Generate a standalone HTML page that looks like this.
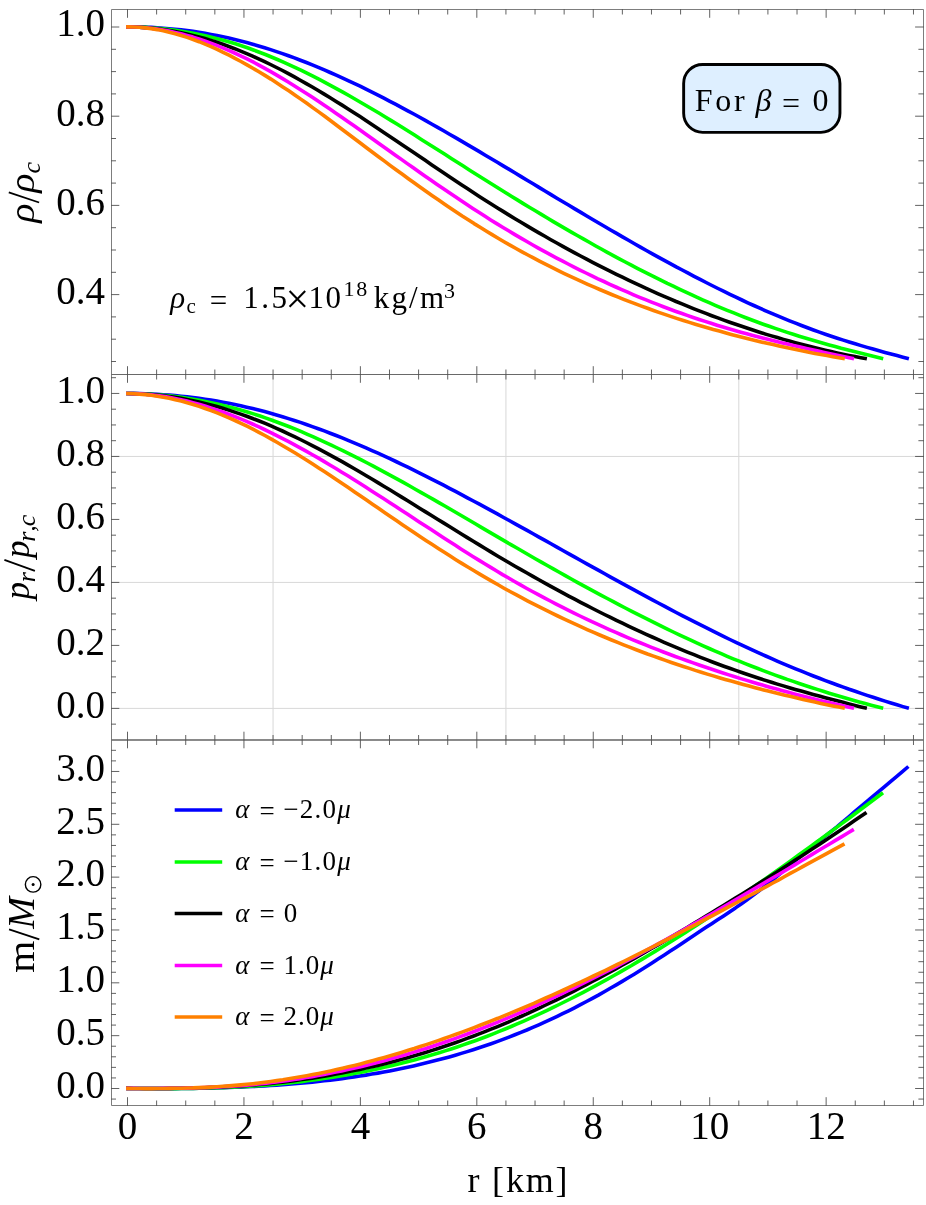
<!DOCTYPE html>
<html><head><meta charset="utf-8"><title>chart</title><style>html,body{margin:0;padding:0;background:#fff;overflow:hidden}svg{display:block;position:absolute;left:0;top:0;will-change:transform}</style></head><body>
<svg width="926" height="1205" viewBox="0 0 926 1205">
<rect width="926" height="1205" fill="#fff"/>
<path d="M273.05 374.50 V740.00 M505.93 374.50 V740.00 M738.81 374.50 V740.00 M111.50 456.44 H923.50 M111.50 582.42 H923.50 M111.50 708.40 H923.50" stroke="#d8d8d8" stroke-width="1" fill="none"/>
<path d="M126.1 26.9 L127.4 26.9 L133.4 26.9 L139.3 27.0 L145.3 27.2 L151.3 27.4 L157.2 27.8 L163.2 28.2 L169.2 28.7 L175.1 29.2 L181.1 29.9 L187.1 30.6 L193.0 31.4 L199.0 32.3 L205.0 33.3 L210.9 34.4 L216.9 35.5 L222.9 36.8 L228.8 38.1 L234.8 39.5 L240.7 41.0 L246.7 42.5 L252.7 44.2 L258.6 45.9 L264.6 47.7 L270.6 49.6 L276.5 51.6 L282.5 53.6 L288.5 55.8 L294.4 57.9 L300.4 60.2 L306.4 62.5 L312.3 64.9 L318.3 67.4 L324.3 69.9 L330.2 72.5 L336.2 75.1 L342.2 77.8 L348.1 80.6 L354.1 83.4 L360.1 86.2 L366.0 89.2 L372.0 92.1 L378.0 95.1 L383.9 98.2 L389.9 101.3 L395.9 104.4 L401.8 107.6 L407.8 110.8 L413.8 114.0 L419.7 117.3 L425.7 120.6 L431.6 124.0 L437.6 127.3 L443.6 130.7 L449.5 134.2 L455.5 137.6 L461.5 141.1 L467.4 144.6 L473.4 148.1 L479.4 151.6 L485.3 155.2 L491.3 158.7 L497.3 162.3 L503.2 165.9 L509.2 169.4 L515.2 173.0 L521.1 176.6 L527.1 180.2 L533.1 183.8 L539.0 187.4 L545.0 191.0 L551.0 194.6 L556.9 198.2 L562.9 201.7 L568.9 205.3 L574.8 208.9 L580.8 212.4 L586.8 216.0 L592.7 219.5 L598.7 223.0 L604.7 226.5 L610.6 230.0 L616.6 233.4 L622.5 236.9 L628.5 240.3 L634.5 243.7 L640.4 247.1 L646.4 250.5 L652.4 253.8 L658.3 257.1 L664.3 260.4 L670.3 263.6 L676.2 266.9 L682.2 270.0 L688.2 273.2 L694.1 276.3 L700.1 279.4 L706.1 282.5 L712.0 285.5 L718.0 288.5 L724.0 291.4 L729.9 294.3 L735.9 297.2 L741.9 300.0 L747.8 302.8 L753.8 305.5 L759.8 308.2 L765.7 310.8 L771.7 313.4 L777.7 315.9 L783.6 318.4 L789.6 320.8 L795.6 323.2 L801.5 325.5 L807.5 327.8 L813.4 330.0 L819.4 332.1 L825.4 334.2 L831.3 336.2 L837.3 338.2 L843.3 340.1 L849.2 342.0 L855.2 343.8 L861.2 345.6 L867.1 347.4 L873.1 349.1 L879.1 350.8 L885.0 352.4 L891.0 354.0 L897.0 355.6 L902.9 357.2 L908.9 358.8" stroke="#0000ff" stroke-width="3.6" fill="none" stroke-linecap="butt" stroke-linejoin="round"/>
<path d="M126.1 27.0 L127.4 27.0 L133.4 27.0 L139.4 27.2 L145.4 27.4 L151.4 27.8 L157.4 28.3 L163.4 28.8 L169.4 29.5 L175.4 30.3 L181.4 31.2 L187.4 32.2 L193.4 33.3 L199.4 34.5 L205.4 35.8 L211.4 37.2 L217.4 38.7 L223.4 40.3 L229.4 42.0 L235.4 43.8 L241.4 45.8 L247.4 47.8 L253.4 50.0 L259.4 52.2 L265.4 54.5 L271.4 57.0 L277.4 59.5 L283.4 62.1 L289.4 64.8 L295.4 67.6 L301.4 70.4 L307.4 73.4 L313.4 76.4 L319.3 79.4 L325.3 82.6 L331.3 85.8 L337.3 89.1 L343.3 92.4 L349.3 95.8 L355.3 99.2 L361.3 102.7 L367.3 106.2 L373.3 109.7 L379.3 113.3 L385.3 117.0 L391.3 120.6 L397.3 124.3 L403.3 128.1 L409.3 131.8 L415.3 135.6 L421.3 139.4 L427.3 143.2 L433.3 147.0 L439.3 150.8 L445.3 154.6 L451.3 158.5 L457.3 162.3 L463.3 166.1 L469.3 169.9 L475.3 173.7 L481.3 177.5 L487.3 181.3 L493.3 185.0 L499.3 188.8 L505.3 192.5 L511.3 196.2 L517.3 199.9 L523.3 203.6 L529.3 207.2 L535.3 210.8 L541.3 214.4 L547.3 218.0 L553.3 221.6 L559.3 225.1 L565.3 228.6 L571.3 232.1 L577.3 235.5 L583.3 238.9 L589.3 242.3 L595.3 245.7 L601.3 249.0 L607.3 252.3 L613.3 255.6 L619.3 258.8 L625.3 262.0 L631.3 265.2 L637.3 268.3 L643.3 271.4 L649.3 274.4 L655.3 277.4 L661.3 280.4 L667.3 283.4 L673.3 286.2 L679.3 289.1 L685.3 291.9 L691.3 294.7 L697.2 297.4 L703.2 300.1 L709.2 302.7 L715.2 305.3 L721.2 307.8 L727.2 310.3 L733.2 312.7 L739.2 315.1 L745.2 317.5 L751.2 319.8 L757.2 322.0 L763.2 324.2 L769.2 326.3 L775.2 328.4 L781.2 330.4 L787.2 332.4 L793.2 334.3 L799.2 336.2 L805.2 338.0 L811.2 339.8 L817.2 341.5 L823.2 343.2 L829.2 344.9 L835.2 346.5 L841.2 348.2 L847.2 349.7 L853.2 351.3 L859.2 352.8 L865.2 354.3 L871.2 355.8 L877.2 357.3 L883.2 358.8" stroke="#00ff00" stroke-width="3.6" fill="none" stroke-linecap="butt" stroke-linejoin="round"/>
<path d="M126.1 26.9 L127.4 26.9 L133.4 27.0 L139.3 27.2 L145.3 27.6 L151.3 28.1 L157.2 28.8 L163.2 29.5 L169.1 30.5 L175.1 31.5 L181.1 32.7 L187.0 34.0 L193.0 35.4 L199.0 36.9 L204.9 38.6 L210.9 40.4 L216.9 42.3 L222.8 44.3 L228.8 46.5 L234.7 48.7 L240.7 51.1 L246.7 53.6 L252.6 56.2 L258.6 58.8 L264.6 61.6 L270.5 64.5 L276.5 67.5 L282.5 70.5 L288.4 73.7 L294.4 76.9 L300.3 80.2 L306.3 83.6 L312.3 87.0 L318.2 90.5 L324.2 94.1 L330.2 97.7 L336.1 101.4 L342.1 105.1 L348.1 108.9 L354.0 112.8 L360.0 116.6 L365.9 120.5 L371.9 124.4 L377.9 128.4 L383.8 132.4 L389.8 136.4 L395.8 140.4 L401.7 144.4 L407.7 148.5 L413.7 152.5 L419.6 156.6 L425.6 160.6 L431.5 164.7 L437.5 168.7 L443.5 172.7 L449.4 176.7 L455.4 180.7 L461.4 184.7 L467.3 188.6 L473.3 192.5 L479.3 196.4 L485.2 200.2 L491.2 204.0 L497.1 207.7 L503.1 211.4 L509.1 215.1 L515.0 218.7 L521.0 222.3 L527.0 225.9 L532.9 229.4 L538.9 232.9 L544.9 236.3 L550.8 239.7 L556.8 243.0 L562.8 246.4 L568.7 249.6 L574.7 252.9 L580.6 256.0 L586.6 259.2 L592.6 262.3 L598.5 265.4 L604.5 268.4 L610.5 271.4 L616.4 274.3 L622.4 277.2 L628.4 280.1 L634.3 282.9 L640.3 285.7 L646.2 288.4 L652.2 291.1 L658.2 293.8 L664.1 296.4 L670.1 298.9 L676.1 301.5 L682.0 303.9 L688.0 306.4 L694.0 308.8 L699.9 311.1 L705.9 313.4 L711.8 315.7 L717.8 317.9 L723.8 320.1 L729.7 322.2 L735.7 324.3 L741.7 326.3 L747.6 328.3 L753.6 330.3 L759.6 332.2 L765.5 334.1 L771.5 335.9 L777.4 337.6 L783.4 339.4 L789.4 341.1 L795.3 342.7 L801.3 344.3 L807.3 345.8 L813.2 347.3 L819.2 348.8 L825.2 350.2 L831.1 351.6 L837.1 352.9 L843.0 354.2 L849.0 355.4 L855.0 356.6 L860.9 357.7 L866.9 358.8" stroke="#000000" stroke-width="3.6" fill="none" stroke-linecap="butt" stroke-linejoin="round"/>
<path d="M126.1 26.9 L127.4 26.9 L133.4 27.0 L139.3 27.3 L145.3 27.7 L151.2 28.3 L157.2 29.1 L163.1 30.0 L169.1 31.1 L175.0 32.4 L181.0 33.8 L187.0 35.4 L192.9 37.1 L198.9 39.0 L204.8 41.0 L210.8 43.1 L216.7 45.4 L222.7 47.8 L228.6 50.3 L234.6 53.0 L240.6 55.8 L246.5 58.7 L252.5 61.7 L258.4 64.8 L264.4 68.1 L270.3 71.4 L276.3 74.9 L282.2 78.4 L288.2 82.0 L294.2 85.7 L300.1 89.4 L306.1 93.2 L312.0 97.1 L318.0 101.1 L323.9 105.1 L329.9 109.1 L335.9 113.2 L341.8 117.3 L347.8 121.5 L353.7 125.6 L359.7 129.8 L365.6 134.0 L371.6 138.3 L377.5 142.5 L383.5 146.7 L389.5 151.0 L395.4 155.2 L401.4 159.4 L407.3 163.6 L413.3 167.8 L419.2 172.0 L425.2 176.2 L431.1 180.3 L437.1 184.5 L443.1 188.6 L449.0 192.6 L455.0 196.6 L460.9 200.6 L466.9 204.6 L472.8 208.5 L478.8 212.3 L484.7 216.1 L490.7 219.9 L496.7 223.6 L502.6 227.2 L508.6 230.8 L514.5 234.4 L520.5 237.9 L526.4 241.3 L532.4 244.7 L538.3 248.1 L544.3 251.4 L550.3 254.6 L556.2 257.8 L562.2 260.9 L568.1 264.0 L574.1 267.1 L580.0 270.1 L586.0 273.0 L591.9 275.9 L597.9 278.8 L603.9 281.5 L609.8 284.3 L615.8 287.0 L621.7 289.6 L627.7 292.2 L633.6 294.8 L639.6 297.3 L645.5 299.7 L651.5 302.1 L657.5 304.4 L663.4 306.7 L669.4 309.0 L675.3 311.2 L681.3 313.3 L687.2 315.4 L693.2 317.5 L699.2 319.5 L705.1 321.4 L711.1 323.3 L717.0 325.2 L723.0 327.0 L728.9 328.8 L734.9 330.5 L740.8 332.2 L746.8 333.8 L752.8 335.4 L758.7 337.0 L764.7 338.5 L770.6 340.0 L776.6 341.5 L782.5 342.9 L788.5 344.3 L794.4 345.7 L800.4 347.1 L806.4 348.5 L812.3 349.8 L818.3 351.1 L824.2 352.4 L830.2 353.7 L836.1 355.0 L842.1 356.3 L848.0 357.5 L854.0 358.8" stroke="#ff00ff" stroke-width="3.6" fill="none" stroke-linecap="butt" stroke-linejoin="round"/>
<path d="M126.1 26.9 L127.4 26.9 L133.4 27.0 L139.4 27.3 L145.3 27.9 L151.3 28.6 L157.3 29.6 L163.3 30.8 L169.2 32.2 L175.2 33.7 L181.2 35.5 L187.2 37.4 L193.2 39.5 L199.1 41.7 L205.1 44.2 L211.1 46.7 L217.1 49.4 L223.1 52.3 L229.0 55.2 L235.0 58.3 L241.0 61.5 L247.0 64.9 L252.9 68.3 L258.9 71.8 L264.9 75.4 L270.9 79.1 L276.9 83.0 L282.8 86.9 L288.8 90.8 L294.8 94.9 L300.8 99.1 L306.8 103.3 L312.7 107.6 L318.7 111.9 L324.7 116.3 L330.7 120.7 L336.6 125.2 L342.6 129.7 L348.6 134.2 L354.6 138.7 L360.6 143.2 L366.5 147.7 L372.5 152.2 L378.5 156.7 L384.5 161.1 L390.4 165.6 L396.4 170.0 L402.4 174.3 L408.4 178.7 L414.4 183.0 L420.3 187.2 L426.3 191.5 L432.3 195.7 L438.3 199.8 L444.3 203.9 L450.2 207.9 L456.2 211.9 L462.2 215.9 L468.2 219.7 L474.1 223.6 L480.1 227.3 L486.1 231.0 L492.1 234.6 L498.1 238.2 L504.0 241.7 L510.0 245.1 L516.0 248.5 L522.0 251.8 L527.9 255.0 L533.9 258.2 L539.9 261.3 L545.9 264.4 L551.9 267.4 L557.8 270.4 L563.8 273.3 L569.8 276.1 L575.8 278.9 L581.8 281.6 L587.7 284.3 L593.7 286.9 L599.7 289.5 L605.7 292.0 L611.6 294.5 L617.6 296.9 L623.6 299.3 L629.6 301.6 L635.6 303.9 L641.5 306.1 L647.5 308.3 L653.5 310.5 L659.5 312.6 L665.5 314.6 L671.4 316.6 L677.4 318.6 L683.4 320.5 L689.4 322.4 L695.3 324.2 L701.3 326.0 L707.3 327.7 L713.3 329.5 L719.3 331.1 L725.2 332.8 L731.2 334.4 L737.2 335.9 L743.2 337.5 L749.1 339.0 L755.1 340.4 L761.1 341.9 L767.1 343.3 L773.1 344.6 L779.0 346.0 L785.0 347.3 L791.0 348.5 L797.0 349.8 L803.0 351.0 L808.9 352.2 L814.9 353.4 L820.9 354.5 L826.9 355.6 L832.8 356.7 L838.8 357.8 L844.8 358.8" stroke="#ff8000" stroke-width="3.6" fill="none" stroke-linecap="butt" stroke-linejoin="round"/>
<path d="M126.1 393.5 L127.4 393.5 L133.4 393.5 L139.3 393.6 L145.3 393.8 L151.3 394.0 L157.2 394.3 L163.2 394.7 L169.2 395.1 L175.1 395.6 L181.1 396.2 L187.1 396.8 L193.0 397.6 L199.0 398.4 L205.0 399.2 L210.9 400.1 L216.9 401.1 L222.9 402.2 L228.8 403.3 L234.8 404.6 L240.7 405.8 L246.7 407.2 L252.7 408.6 L258.6 410.1 L264.6 411.6 L270.6 413.3 L276.5 415.0 L282.5 416.7 L288.5 418.6 L294.4 420.5 L300.4 422.4 L306.4 424.5 L312.3 426.6 L318.3 428.7 L324.3 430.9 L330.2 433.2 L336.2 435.5 L342.2 437.9 L348.1 440.3 L354.1 442.8 L360.1 445.3 L366.0 447.9 L372.0 450.6 L378.0 453.2 L383.9 455.9 L389.9 458.7 L395.9 461.5 L401.8 464.3 L407.8 467.2 L413.8 470.1 L419.7 473.1 L425.7 476.1 L431.6 479.1 L437.6 482.1 L443.6 485.2 L449.5 488.3 L455.5 491.4 L461.5 494.6 L467.4 497.8 L473.4 501.0 L479.4 504.2 L485.3 507.4 L491.3 510.7 L497.3 513.9 L503.2 517.2 L509.2 520.5 L515.2 523.8 L521.1 527.1 L527.1 530.4 L533.1 533.8 L539.0 537.1 L545.0 540.4 L551.0 543.8 L556.9 547.1 L562.9 550.5 L568.9 553.8 L574.8 557.1 L580.8 560.5 L586.8 563.8 L592.7 567.1 L598.7 570.4 L604.7 573.8 L610.6 577.1 L616.6 580.3 L622.5 583.6 L628.5 586.9 L634.5 590.2 L640.4 593.4 L646.4 596.6 L652.4 599.8 L658.3 603.0 L664.3 606.2 L670.3 609.3 L676.2 612.5 L682.2 615.6 L688.2 618.6 L694.1 621.7 L700.1 624.7 L706.1 627.7 L712.0 630.7 L718.0 633.7 L724.0 636.6 L729.9 639.5 L735.9 642.3 L741.9 645.1 L747.8 647.9 L753.8 650.7 L759.8 653.4 L765.7 656.0 L771.7 658.7 L777.7 661.3 L783.6 663.8 L789.6 666.3 L795.6 668.8 L801.5 671.2 L807.5 673.6 L813.4 676.0 L819.4 678.3 L825.4 680.6 L831.3 682.8 L837.3 685.0 L843.3 687.1 L849.2 689.3 L855.2 691.3 L861.2 693.4 L867.1 695.4 L873.1 697.3 L879.1 699.2 L885.0 701.1 L891.0 703.0 L897.0 704.8 L902.9 706.6 L908.9 708.3" stroke="#0000ff" stroke-width="3.6" fill="none" stroke-linecap="butt" stroke-linejoin="round"/>
<path d="M126.1 393.5 L127.4 393.5 L133.4 393.5 L139.4 393.7 L145.4 393.9 L151.4 394.3 L157.4 394.7 L163.4 395.2 L169.4 395.8 L175.4 396.5 L181.4 397.3 L187.4 398.2 L193.4 399.2 L199.4 400.3 L205.4 401.4 L211.4 402.7 L217.4 404.0 L223.4 405.4 L229.4 406.9 L235.4 408.5 L241.4 410.2 L247.4 412.0 L253.4 413.9 L259.4 415.8 L265.4 417.9 L271.4 420.0 L277.4 422.2 L283.4 424.5 L289.4 426.8 L295.4 429.2 L301.4 431.7 L307.4 434.3 L313.4 436.9 L319.3 439.6 L325.3 442.3 L331.3 445.1 L337.3 448.0 L343.3 450.9 L349.3 453.8 L355.3 456.9 L361.3 459.9 L367.3 463.0 L373.3 466.2 L379.3 469.3 L385.3 472.6 L391.3 475.8 L397.3 479.1 L403.3 482.4 L409.3 485.8 L415.3 489.2 L421.3 492.6 L427.3 496.0 L433.3 499.4 L439.3 502.9 L445.3 506.3 L451.3 509.8 L457.3 513.3 L463.3 516.8 L469.3 520.3 L475.3 523.8 L481.3 527.4 L487.3 530.9 L493.3 534.4 L499.3 537.9 L505.3 541.4 L511.3 544.9 L517.3 548.3 L523.3 551.8 L529.3 555.3 L535.3 558.7 L541.3 562.1 L547.3 565.5 L553.3 568.9 L559.3 572.3 L565.3 575.6 L571.3 579.0 L577.3 582.3 L583.3 585.6 L589.3 588.9 L595.3 592.1 L601.3 595.3 L607.3 598.5 L613.3 601.7 L619.3 604.9 L625.3 608.0 L631.3 611.1 L637.3 614.2 L643.3 617.2 L649.3 620.2 L655.3 623.2 L661.3 626.2 L667.3 629.1 L673.3 632.0 L679.3 634.8 L685.3 637.6 L691.3 640.4 L697.2 643.1 L703.2 645.8 L709.2 648.5 L715.2 651.1 L721.2 653.7 L727.2 656.3 L733.2 658.8 L739.2 661.2 L745.2 663.6 L751.2 666.0 L757.2 668.3 L763.2 670.6 L769.2 672.9 L775.2 675.1 L781.2 677.2 L787.2 679.4 L793.2 681.4 L799.2 683.5 L805.2 685.5 L811.2 687.5 L817.2 689.4 L823.2 691.3 L829.2 693.2 L835.2 695.0 L841.2 696.8 L847.2 698.5 L853.2 700.2 L859.2 701.9 L865.2 703.6 L871.2 705.2 L877.2 706.8 L883.2 708.3" stroke="#00ff00" stroke-width="3.6" fill="none" stroke-linecap="butt" stroke-linejoin="round"/>
<path d="M126.1 393.5 L127.4 393.5 L133.4 393.6 L139.3 393.8 L145.3 394.2 L151.3 394.6 L157.2 395.1 L163.2 395.8 L169.1 396.6 L175.1 397.4 L181.1 398.4 L187.0 399.5 L193.0 400.7 L199.0 402.0 L204.9 403.4 L210.9 404.9 L216.9 406.6 L222.8 408.3 L228.8 410.1 L234.7 412.1 L240.7 414.1 L246.7 416.2 L252.6 418.5 L258.6 420.8 L264.6 423.2 L270.5 425.7 L276.5 428.3 L282.5 431.0 L288.4 433.8 L294.4 436.6 L300.3 439.5 L306.3 442.5 L312.3 445.6 L318.2 448.7 L324.2 451.9 L330.2 455.1 L336.1 458.4 L342.1 461.7 L348.1 465.1 L354.0 468.5 L360.0 472.0 L365.9 475.5 L371.9 479.0 L377.9 482.6 L383.8 486.2 L389.8 489.8 L395.8 493.5 L401.7 497.1 L407.7 500.8 L413.7 504.5 L419.6 508.2 L425.6 511.9 L431.5 515.6 L437.5 519.3 L443.5 522.9 L449.4 526.6 L455.4 530.3 L461.4 534.0 L467.3 537.6 L473.3 541.3 L479.3 544.9 L485.2 548.5 L491.2 552.1 L497.1 555.7 L503.1 559.2 L509.1 562.7 L515.0 566.2 L521.0 569.6 L527.0 573.0 L532.9 576.4 L538.9 579.8 L544.9 583.1 L550.8 586.4 L556.8 589.6 L562.8 592.9 L568.7 596.1 L574.7 599.2 L580.6 602.3 L586.6 605.4 L592.6 608.5 L598.5 611.5 L604.5 614.5 L610.5 617.4 L616.4 620.3 L622.4 623.2 L628.4 626.1 L634.3 628.9 L640.3 631.6 L646.2 634.3 L652.2 637.0 L658.2 639.7 L664.1 642.3 L670.1 644.9 L676.1 647.4 L682.0 649.9 L688.0 652.3 L694.0 654.7 L699.9 657.1 L705.9 659.4 L711.8 661.7 L717.8 664.0 L723.8 666.2 L729.7 668.3 L735.7 670.4 L741.7 672.5 L747.6 674.5 L753.6 676.5 L759.6 678.5 L765.5 680.4 L771.5 682.3 L777.4 684.1 L783.4 685.9 L789.4 687.7 L795.3 689.4 L801.3 691.1 L807.3 692.8 L813.2 694.4 L819.2 696.1 L825.2 697.7 L831.1 699.2 L837.1 700.8 L843.0 702.3 L849.0 703.9 L855.0 705.4 L860.9 706.9 L866.9 708.3" stroke="#000000" stroke-width="3.6" fill="none" stroke-linecap="butt" stroke-linejoin="round"/>
<path d="M126.1 393.5 L127.4 393.5 L133.4 393.6 L139.3 393.9 L145.3 394.3 L151.2 394.9 L157.2 395.6 L163.1 396.4 L169.1 397.4 L175.0 398.5 L181.0 399.8 L187.0 401.1 L192.9 402.7 L198.9 404.3 L204.8 406.0 L210.8 407.9 L216.7 409.9 L222.7 412.0 L228.6 414.2 L234.6 416.5 L240.6 418.9 L246.5 421.4 L252.5 424.0 L258.4 426.7 L264.4 429.5 L270.3 432.3 L276.3 435.3 L282.2 438.3 L288.2 441.4 L294.2 444.6 L300.1 447.8 L306.1 451.1 L312.0 454.5 L318.0 457.9 L323.9 461.4 L329.9 465.0 L335.9 468.5 L341.8 472.2 L347.8 475.8 L353.7 479.6 L359.7 483.3 L365.6 487.1 L371.6 490.9 L377.5 494.7 L383.5 498.5 L389.5 502.4 L395.4 506.3 L401.4 510.2 L407.3 514.1 L413.3 518.0 L419.2 521.9 L425.2 525.8 L431.1 529.6 L437.1 533.5 L443.1 537.4 L449.0 541.2 L455.0 545.1 L460.9 548.9 L466.9 552.7 L472.8 556.4 L478.8 560.1 L484.7 563.8 L490.7 567.4 L496.7 571.0 L502.6 574.6 L508.6 578.0 L514.5 581.5 L520.5 584.9 L526.4 588.2 L532.4 591.5 L538.3 594.7 L544.3 597.9 L550.3 601.0 L556.2 604.1 L562.2 607.2 L568.1 610.2 L574.1 613.1 L580.0 616.0 L586.0 618.8 L591.9 621.7 L597.9 624.4 L603.9 627.1 L609.8 629.8 L615.8 632.4 L621.7 635.0 L627.7 637.6 L633.6 640.1 L639.6 642.5 L645.5 644.9 L651.5 647.3 L657.5 649.7 L663.4 652.0 L669.4 654.2 L675.3 656.5 L681.3 658.6 L687.2 660.8 L693.2 662.9 L699.2 665.0 L705.1 667.0 L711.1 669.0 L717.0 671.0 L723.0 673.0 L728.9 674.9 L734.9 676.7 L740.8 678.6 L746.8 680.4 L752.8 682.2 L758.7 683.9 L764.7 685.7 L770.6 687.4 L776.6 689.0 L782.5 690.7 L788.5 692.3 L794.4 693.9 L800.4 695.4 L806.4 697.0 L812.3 698.5 L818.3 699.9 L824.2 701.4 L830.2 702.8 L836.1 704.2 L842.1 705.6 L848.0 707.0 L854.0 708.3" stroke="#ff00ff" stroke-width="3.6" fill="none" stroke-linecap="butt" stroke-linejoin="round"/>
<path d="M126.1 393.5 L127.4 393.5 L133.4 393.7 L139.4 394.1 L145.3 394.6 L151.3 395.3 L157.3 396.2 L163.3 397.2 L169.2 398.3 L175.2 399.7 L181.2 401.1 L187.2 402.8 L193.2 404.5 L199.1 406.4 L205.1 408.5 L211.1 410.6 L217.1 412.9 L223.1 415.3 L229.0 417.9 L235.0 420.5 L241.0 423.3 L247.0 426.2 L252.9 429.2 L258.9 432.3 L264.9 435.5 L270.9 438.8 L276.9 442.2 L282.8 445.7 L288.8 449.2 L294.8 452.8 L300.8 456.5 L306.8 460.3 L312.7 464.1 L318.7 467.9 L324.7 471.8 L330.7 475.8 L336.6 479.8 L342.6 483.8 L348.6 487.8 L354.6 491.9 L360.6 496.0 L366.5 500.1 L372.5 504.2 L378.5 508.3 L384.5 512.4 L390.4 516.5 L396.4 520.6 L402.4 524.7 L408.4 528.7 L414.4 532.8 L420.3 536.7 L426.3 540.7 L432.3 544.6 L438.3 548.5 L444.3 552.3 L450.2 556.1 L456.2 559.9 L462.2 563.6 L468.2 567.2 L474.1 570.8 L480.1 574.4 L486.1 577.9 L492.1 581.4 L498.1 584.8 L504.0 588.2 L510.0 591.5 L516.0 594.7 L522.0 597.9 L527.9 601.1 L533.9 604.2 L539.9 607.2 L545.9 610.2 L551.9 613.2 L557.8 616.0 L563.8 618.9 L569.8 621.7 L575.8 624.4 L581.8 627.1 L587.7 629.8 L593.7 632.4 L599.7 635.0 L605.7 637.5 L611.6 640.0 L617.6 642.4 L623.6 644.8 L629.6 647.2 L635.6 649.5 L641.5 651.7 L647.5 654.0 L653.5 656.1 L659.5 658.3 L665.5 660.4 L671.4 662.5 L677.4 664.5 L683.4 666.5 L689.4 668.4 L695.3 670.4 L701.3 672.2 L707.3 674.1 L713.3 675.9 L719.3 677.7 L725.2 679.4 L731.2 681.1 L737.2 682.8 L743.2 684.5 L749.1 686.1 L755.1 687.7 L761.1 689.3 L767.1 690.8 L773.1 692.3 L779.0 693.8 L785.0 695.2 L791.0 696.6 L797.0 698.0 L803.0 699.4 L808.9 700.8 L814.9 702.1 L820.9 703.4 L826.9 704.7 L832.8 705.9 L838.8 707.1 L844.8 708.3" stroke="#ff8000" stroke-width="3.6" fill="none" stroke-linecap="butt" stroke-linejoin="round"/>
<path d="M126.1 1088.4 L127.4 1088.4 L133.4 1088.5 L139.3 1088.5 L145.3 1088.6 L151.2 1088.6 L157.2 1088.6 L163.2 1088.6 L169.1 1088.6 L175.1 1088.6 L181.1 1088.5 L187.0 1088.5 L193.0 1088.4 L198.9 1088.3 L204.9 1088.2 L210.9 1088.1 L216.8 1087.9 L222.8 1087.7 L228.8 1087.5 L234.7 1087.3 L240.7 1087.1 L246.6 1086.8 L252.6 1086.5 L258.6 1086.2 L264.5 1085.9 L270.5 1085.5 L276.4 1085.1 L282.4 1084.7 L288.4 1084.2 L294.3 1083.7 L300.3 1083.2 L306.3 1082.7 L312.2 1082.1 L318.2 1081.5 L324.1 1080.8 L330.1 1080.1 L336.1 1079.4 L342.0 1078.6 L348.0 1077.8 L353.9 1076.9 L359.9 1076.0 L365.9 1075.1 L371.8 1074.1 L377.8 1073.1 L383.8 1072.0 L389.7 1070.9 L395.7 1069.7 L401.6 1068.5 L407.6 1067.2 L413.6 1065.9 L419.5 1064.5 L425.5 1063.1 L431.5 1061.6 L437.4 1060.1 L443.4 1058.5 L449.3 1056.9 L455.3 1055.2 L461.3 1053.4 L467.2 1051.6 L473.2 1049.7 L479.1 1047.8 L485.1 1045.8 L491.1 1043.7 L497.0 1041.6 L503.0 1039.4 L509.0 1037.1 L514.9 1034.8 L520.9 1032.4 L526.8 1030.0 L532.8 1027.4 L538.8 1024.8 L544.7 1022.2 L550.7 1019.4 L556.7 1016.6 L562.6 1013.7 L568.6 1010.8 L574.5 1007.8 L580.5 1004.7 L586.5 1001.5 L592.4 998.3 L598.4 995.1 L604.3 991.7 L610.3 988.3 L616.3 984.9 L622.2 981.4 L628.2 977.8 L634.2 974.2 L640.1 970.5 L646.1 966.8 L652.0 963.0 L658.0 959.1 L664.0 955.2 L669.9 951.3 L675.9 947.4 L681.9 943.4 L687.8 939.4 L693.8 935.5 L699.7 931.6 L705.7 927.6 L711.7 923.7 L717.6 919.8 L723.6 915.9 L729.5 911.9 L735.5 907.9 L741.5 903.7 L747.4 899.5 L753.4 895.1 L759.4 890.6 L765.3 886.0 L771.3 881.2 L777.2 876.2 L783.2 871.1 L789.2 865.9 L795.1 860.8 L801.1 855.6 L807.0 850.6 L813.0 845.7 L819.0 840.9 L824.9 836.3 L830.9 831.6 L836.9 826.8 L842.8 821.8 L848.8 816.8 L854.7 811.7 L860.7 806.7 L866.7 801.6 L872.6 796.6 L878.6 791.7 L884.6 786.7 L890.5 781.7 L896.5 776.7 L902.4 771.7 L908.4 766.5" stroke="#0000ff" stroke-width="3.6" fill="none" stroke-linecap="butt" stroke-linejoin="round"/>
<path d="M126.1 1088.4 L127.4 1088.4 L133.4 1088.5 L139.4 1088.5 L145.4 1088.6 L151.4 1088.6 L157.4 1088.6 L163.4 1088.6 L169.4 1088.6 L175.4 1088.6 L181.4 1088.5 L187.4 1088.5 L193.4 1088.4 L199.4 1088.3 L205.4 1088.1 L211.4 1088.0 L217.4 1087.8 L223.3 1087.6 L229.3 1087.3 L235.3 1087.0 L241.3 1086.7 L247.3 1086.4 L253.3 1086.0 L259.3 1085.6 L265.3 1085.1 L271.3 1084.6 L277.3 1084.1 L283.3 1083.5 L289.3 1082.9 L295.3 1082.2 L301.3 1081.6 L307.3 1080.8 L313.3 1080.0 L319.3 1079.2 L325.3 1078.3 L331.3 1077.4 L337.3 1076.5 L343.3 1075.5 L349.3 1074.4 L355.3 1073.3 L361.3 1072.2 L367.3 1071.0 L373.3 1069.8 L379.3 1068.5 L385.3 1067.1 L391.3 1065.7 L397.3 1064.3 L403.3 1062.8 L409.3 1061.3 L415.2 1059.7 L421.2 1058.0 L427.2 1056.3 L433.2 1054.6 L439.2 1052.8 L445.2 1050.9 L451.2 1049.0 L457.2 1047.0 L463.2 1044.9 L469.2 1042.8 L475.2 1040.7 L481.2 1038.5 L487.2 1036.2 L493.2 1033.8 L499.2 1031.4 L505.2 1029.0 L511.2 1026.5 L517.2 1023.9 L523.2 1021.3 L529.2 1018.6 L535.2 1015.9 L541.2 1013.1 L547.2 1010.3 L553.2 1007.4 L559.2 1004.5 L565.2 1001.5 L571.2 998.5 L577.2 995.4 L583.2 992.3 L589.2 989.1 L595.2 985.9 L601.1 982.6 L607.1 979.3 L613.1 976.0 L619.1 972.6 L625.1 969.1 L631.1 965.7 L637.1 962.1 L643.1 958.6 L649.1 955.0 L655.1 951.4 L661.1 947.7 L667.1 944.0 L673.1 940.3 L679.1 936.5 L685.1 932.7 L691.1 928.8 L697.1 924.9 L703.1 921.0 L709.1 917.1 L715.1 913.1 L721.1 909.1 L727.1 905.1 L733.1 901.0 L739.1 897.0 L745.1 892.9 L751.1 888.7 L757.1 884.6 L763.1 880.4 L769.1 876.2 L775.1 871.9 L781.1 867.7 L787.1 863.4 L793.0 859.1 L799.0 854.8 L805.0 850.5 L811.0 846.1 L817.0 841.8 L823.0 837.4 L829.0 833.0 L835.0 828.6 L841.0 824.1 L847.0 819.7 L853.0 815.2 L859.0 810.8 L865.0 806.3 L871.0 801.8 L877.0 797.3 L883.0 792.8" stroke="#00ff00" stroke-width="3.6" fill="none" stroke-linecap="butt" stroke-linejoin="round"/>
<path d="M126.1 1088.4 L127.4 1088.4 L133.4 1088.5 L139.3 1088.5 L145.3 1088.5 L151.2 1088.5 L157.2 1088.5 L163.2 1088.5 L169.1 1088.4 L175.1 1088.3 L181.0 1088.3 L187.0 1088.1 L193.0 1088.0 L198.9 1087.8 L204.9 1087.7 L210.8 1087.4 L216.8 1087.2 L222.8 1086.9 L228.7 1086.6 L234.7 1086.3 L240.6 1085.9 L246.6 1085.5 L252.6 1085.0 L258.5 1084.5 L264.5 1083.9 L270.5 1083.4 L276.4 1082.7 L282.4 1082.1 L288.3 1081.4 L294.3 1080.6 L300.3 1079.8 L306.2 1079.0 L312.2 1078.1 L318.1 1077.2 L324.1 1076.2 L330.1 1075.2 L336.0 1074.1 L342.0 1073.0 L347.9 1071.8 L353.9 1070.6 L359.9 1069.4 L365.8 1068.1 L371.8 1066.8 L377.7 1065.4 L383.7 1063.9 L389.7 1062.4 L395.6 1060.9 L401.6 1059.3 L407.5 1057.7 L413.5 1056.0 L419.5 1054.2 L425.4 1052.5 L431.4 1050.6 L437.3 1048.7 L443.3 1046.8 L449.3 1044.8 L455.2 1042.7 L461.2 1040.6 L467.1 1038.4 L473.1 1036.2 L479.1 1033.9 L485.0 1031.6 L491.0 1029.2 L497.0 1026.8 L502.9 1024.3 L508.9 1021.8 L514.8 1019.2 L520.8 1016.5 L526.8 1013.9 L532.7 1011.1 L538.7 1008.4 L544.6 1005.5 L550.6 1002.7 L556.6 999.8 L562.5 996.8 L568.5 993.8 L574.4 990.8 L580.4 987.7 L586.4 984.6 L592.3 981.5 L598.3 978.3 L604.2 975.1 L610.2 971.9 L616.2 968.6 L622.1 965.3 L628.1 961.9 L634.0 958.6 L640.0 955.2 L646.0 951.8 L651.9 948.3 L657.9 944.9 L663.8 941.4 L669.8 937.9 L675.8 934.3 L681.7 930.8 L687.7 927.2 L693.6 923.6 L699.6 920.0 L705.6 916.4 L711.5 912.8 L717.5 909.1 L723.4 905.5 L729.4 901.8 L735.4 898.1 L741.3 894.4 L747.3 890.7 L753.3 887.0 L759.2 883.2 L765.2 879.4 L771.1 875.7 L777.1 871.9 L783.1 868.0 L789.0 864.2 L795.0 860.3 L800.9 856.5 L806.9 852.6 L812.9 848.6 L818.8 844.7 L824.8 840.7 L830.7 836.8 L836.7 832.8 L842.7 828.7 L848.6 824.7 L854.6 820.6 L860.5 816.5 L866.5 812.4" stroke="#000000" stroke-width="3.6" fill="none" stroke-linecap="butt" stroke-linejoin="round"/>
<path d="M126.1 1088.4 L127.4 1088.4 L133.4 1088.4 L139.3 1088.5 L145.3 1088.5 L151.2 1088.5 L157.2 1088.5 L163.1 1088.4 L169.1 1088.4 L175.0 1088.3 L181.0 1088.2 L186.9 1088.1 L192.9 1088.0 L198.8 1087.8 L204.8 1087.6 L210.8 1087.4 L216.7 1087.1 L222.7 1086.8 L228.6 1086.4 L234.6 1086.0 L240.5 1085.6 L246.5 1085.1 L252.4 1084.6 L258.4 1084.0 L264.3 1083.4 L270.3 1082.7 L276.3 1082.0 L282.2 1081.2 L288.2 1080.4 L294.1 1079.5 L300.1 1078.6 L306.0 1077.6 L312.0 1076.6 L317.9 1075.6 L323.9 1074.5 L329.8 1073.3 L335.8 1072.1 L341.7 1070.9 L347.7 1069.6 L353.7 1068.2 L359.6 1066.9 L365.6 1065.4 L371.5 1064.0 L377.5 1062.4 L383.4 1060.9 L389.4 1059.3 L395.3 1057.6 L401.3 1055.9 L407.2 1054.2 L413.2 1052.4 L419.2 1050.5 L425.1 1048.7 L431.1 1046.7 L437.0 1044.8 L443.0 1042.8 L448.9 1040.7 L454.9 1038.6 L460.8 1036.4 L466.8 1034.2 L472.7 1032.0 L478.7 1029.7 L484.6 1027.4 L490.6 1025.0 L496.6 1022.6 L502.5 1020.2 L508.5 1017.7 L514.4 1015.2 L520.4 1012.6 L526.3 1010.0 L532.3 1007.3 L538.2 1004.7 L544.2 1001.9 L550.1 999.2 L556.1 996.4 L562.0 993.6 L568.0 990.7 L574.0 987.8 L579.9 984.9 L585.9 982.0 L591.8 979.0 L597.8 976.0 L603.7 972.9 L609.7 969.9 L615.6 966.8 L621.6 963.7 L627.5 960.5 L633.5 957.3 L639.5 954.2 L645.4 950.9 L651.4 947.7 L657.3 944.4 L663.3 941.1 L669.2 937.8 L675.2 934.5 L681.1 931.2 L687.1 927.8 L693.0 924.4 L699.0 921.0 L704.9 917.6 L710.9 914.2 L716.9 910.8 L722.8 907.3 L728.8 903.9 L734.7 900.4 L740.7 896.9 L746.6 893.4 L752.6 889.9 L758.5 886.4 L764.5 882.8 L770.4 879.3 L776.4 875.8 L782.4 872.2 L788.3 868.7 L794.3 865.1 L800.2 861.5 L806.2 858.0 L812.1 854.4 L818.1 850.8 L824.0 847.3 L830.0 843.7 L835.9 840.1 L841.9 836.6 L847.8 833.0 L853.8 829.4" stroke="#ff00ff" stroke-width="3.6" fill="none" stroke-linecap="butt" stroke-linejoin="round"/>
<path d="M126.1 1088.4 L127.4 1088.4 L133.4 1088.5 L139.4 1088.5 L145.3 1088.6 L151.3 1088.6 L157.3 1088.5 L163.3 1088.5 L169.2 1088.4 L175.2 1088.3 L181.2 1088.2 L187.2 1088.0 L193.1 1087.9 L199.1 1087.6 L205.1 1087.4 L211.1 1087.1 L217.0 1086.7 L223.0 1086.3 L229.0 1085.9 L235.0 1085.4 L240.9 1084.9 L246.9 1084.3 L252.9 1083.7 L258.9 1083.0 L264.8 1082.3 L270.8 1081.5 L276.8 1080.6 L282.8 1079.8 L288.7 1078.8 L294.7 1077.8 L300.7 1076.8 L306.7 1075.7 L312.7 1074.6 L318.6 1073.4 L324.6 1072.2 L330.6 1070.9 L336.6 1069.6 L342.5 1068.2 L348.5 1066.8 L354.5 1065.4 L360.5 1063.9 L366.4 1062.3 L372.4 1060.7 L378.4 1059.1 L384.4 1057.4 L390.3 1055.7 L396.3 1054.0 L402.3 1052.2 L408.3 1050.3 L414.2 1048.5 L420.2 1046.5 L426.2 1044.6 L432.2 1042.6 L438.1 1040.6 L444.1 1038.5 L450.1 1036.4 L456.1 1034.2 L462.0 1032.1 L468.0 1029.9 L474.0 1027.6 L480.0 1025.3 L486.0 1023.0 L491.9 1020.6 L497.9 1018.3 L503.9 1015.8 L509.9 1013.4 L515.8 1010.9 L521.8 1008.4 L527.8 1005.8 L533.8 1003.3 L539.7 1000.6 L545.7 998.0 L551.7 995.4 L557.7 992.7 L563.6 990.0 L569.6 987.2 L575.6 984.4 L581.6 981.7 L587.5 978.8 L593.5 976.0 L599.5 973.1 L605.5 970.3 L611.4 967.4 L617.4 964.4 L623.4 961.5 L629.4 958.5 L635.3 955.5 L641.3 952.5 L647.3 949.5 L653.3 946.5 L659.2 943.4 L665.2 940.3 L671.2 937.3 L677.2 934.1 L683.2 931.0 L689.1 927.9 L695.1 924.8 L701.1 921.6 L707.1 918.4 L713.0 915.3 L719.0 912.1 L725.0 908.9 L731.0 905.7 L736.9 902.5 L742.9 899.2 L748.9 896.0 L754.9 892.8 L760.8 889.5 L766.8 886.3 L772.8 883.0 L778.8 879.8 L784.7 876.5 L790.7 873.2 L796.7 870.0 L802.7 866.7 L808.6 863.4 L814.6 860.2 L820.6 856.9 L826.6 853.6 L832.5 850.4 L838.5 847.1 L844.5 843.8" stroke="#ff8000" stroke-width="3.6" fill="none" stroke-linecap="butt" stroke-linejoin="round"/>
<path d="M111.50 9.50 H923.50 V1105.50 H111.50 Z M111.50 374.50 H923.50 M111.50 374.50 H923.50 M111.50 739.65 H923.50 M111.50 740.35 H923.50" stroke="#666666" stroke-width="0.85" fill="none"/>
<path d="M127.50 9.05 v8.75 M127.50 366.20 v16.60 M127.50 731.70 v16.60 M127.50 1105.95 v-8.75 M156.61 9.05 v5.45 M156.61 369.50 v10.00 M156.61 735.00 v10.00 M156.61 1105.95 v-5.45 M185.72 9.05 v5.45 M185.72 369.50 v10.00 M185.72 735.00 v10.00 M185.72 1105.95 v-5.45 M214.83 9.05 v5.45 M214.83 369.50 v10.00 M214.83 735.00 v10.00 M214.83 1105.95 v-5.45 M243.94 9.05 v8.75 M243.94 366.20 v16.60 M243.94 731.70 v16.60 M243.94 1105.95 v-8.75 M273.05 9.05 v5.45 M273.05 369.50 v10.00 M273.05 735.00 v10.00 M273.05 1105.95 v-5.45 M302.16 9.05 v5.45 M302.16 369.50 v10.00 M302.16 735.00 v10.00 M302.16 1105.95 v-5.45 M331.27 9.05 v5.45 M331.27 369.50 v10.00 M331.27 735.00 v10.00 M331.27 1105.95 v-5.45 M360.38 9.05 v8.75 M360.38 366.20 v16.60 M360.38 731.70 v16.60 M360.38 1105.95 v-8.75 M389.49 9.05 v5.45 M389.49 369.50 v10.00 M389.49 735.00 v10.00 M389.49 1105.95 v-5.45 M418.60 9.05 v5.45 M418.60 369.50 v10.00 M418.60 735.00 v10.00 M418.60 1105.95 v-5.45 M447.71 9.05 v5.45 M447.71 369.50 v10.00 M447.71 735.00 v10.00 M447.71 1105.95 v-5.45 M476.82 9.05 v8.75 M476.82 366.20 v16.60 M476.82 731.70 v16.60 M476.82 1105.95 v-8.75 M505.93 9.05 v5.45 M505.93 369.50 v10.00 M505.93 735.00 v10.00 M505.93 1105.95 v-5.45 M535.04 9.05 v5.45 M535.04 369.50 v10.00 M535.04 735.00 v10.00 M535.04 1105.95 v-5.45 M564.15 9.05 v5.45 M564.15 369.50 v10.00 M564.15 735.00 v10.00 M564.15 1105.95 v-5.45 M593.26 9.05 v8.75 M593.26 366.20 v16.60 M593.26 731.70 v16.60 M593.26 1105.95 v-8.75 M622.37 9.05 v5.45 M622.37 369.50 v10.00 M622.37 735.00 v10.00 M622.37 1105.95 v-5.45 M651.48 9.05 v5.45 M651.48 369.50 v10.00 M651.48 735.00 v10.00 M651.48 1105.95 v-5.45 M680.59 9.05 v5.45 M680.59 369.50 v10.00 M680.59 735.00 v10.00 M680.59 1105.95 v-5.45 M709.70 9.05 v8.75 M709.70 366.20 v16.60 M709.70 731.70 v16.60 M709.70 1105.95 v-8.75 M738.81 9.05 v5.45 M738.81 369.50 v10.00 M738.81 735.00 v10.00 M738.81 1105.95 v-5.45 M767.92 9.05 v5.45 M767.92 369.50 v10.00 M767.92 735.00 v10.00 M767.92 1105.95 v-5.45 M797.03 9.05 v5.45 M797.03 369.50 v10.00 M797.03 735.00 v10.00 M797.03 1105.95 v-5.45 M826.14 9.05 v8.75 M826.14 366.20 v16.60 M826.14 731.70 v16.60 M826.14 1105.95 v-8.75 M855.25 9.05 v5.45 M855.25 369.50 v10.00 M855.25 735.00 v10.00 M855.25 1105.95 v-5.45 M884.36 9.05 v5.45 M884.36 369.50 v10.00 M884.36 735.00 v10.00 M884.36 1105.95 v-5.45 M913.47 9.05 v5.45 M913.47 369.50 v10.00 M913.47 735.00 v10.00 M913.47 1105.95 v-5.45 M111.05 361.50 h4.95 M923.95 361.50 h-5.55 M111.05 339.20 h4.95 M923.95 339.20 h-5.55 M111.05 316.90 h4.95 M923.95 316.90 h-5.55 M111.05 294.60 h8.25 M923.95 294.60 h-8.85 M111.05 272.30 h4.95 M923.95 272.30 h-5.55 M111.05 250.00 h4.95 M923.95 250.00 h-5.55 M111.05 227.70 h4.95 M923.95 227.70 h-5.55 M111.05 205.40 h8.25 M923.95 205.40 h-8.85 M111.05 183.10 h4.95 M923.95 183.10 h-5.55 M111.05 160.80 h4.95 M923.95 160.80 h-5.55 M111.05 138.50 h4.95 M923.95 138.50 h-5.55 M111.05 116.20 h8.25 M923.95 116.20 h-8.85 M111.05 93.90 h4.95 M923.95 93.90 h-5.55 M111.05 71.60 h4.95 M923.95 71.60 h-5.55 M111.05 49.30 h4.95 M923.95 49.30 h-5.55 M111.05 27.00 h8.25 M923.95 27.00 h-8.85 M111.05 724.15 h4.95 M923.95 724.15 h-5.55 M111.05 708.40 h8.25 M923.95 708.40 h-8.85 M111.05 692.65 h4.95 M923.95 692.65 h-5.55 M111.05 676.90 h4.95 M923.95 676.90 h-5.55 M111.05 661.16 h4.95 M923.95 661.16 h-5.55 M111.05 645.41 h8.25 M923.95 645.41 h-8.85 M111.05 629.66 h4.95 M923.95 629.66 h-5.55 M111.05 613.91 h4.95 M923.95 613.91 h-5.55 M111.05 598.17 h4.95 M923.95 598.17 h-5.55 M111.05 582.42 h8.25 M923.95 582.42 h-8.85 M111.05 566.67 h4.95 M923.95 566.67 h-5.55 M111.05 550.92 h4.95 M923.95 550.92 h-5.55 M111.05 535.18 h4.95 M923.95 535.18 h-5.55 M111.05 519.43 h8.25 M923.95 519.43 h-8.85 M111.05 503.68 h4.95 M923.95 503.68 h-5.55 M111.05 487.93 h4.95 M923.95 487.93 h-5.55 M111.05 472.19 h4.95 M923.95 472.19 h-5.55 M111.05 456.44 h8.25 M923.95 456.44 h-8.85 M111.05 440.69 h4.95 M923.95 440.69 h-5.55 M111.05 424.94 h4.95 M923.95 424.94 h-5.55 M111.05 409.20 h4.95 M923.95 409.20 h-5.55 M111.05 393.45 h8.25 M923.95 393.45 h-8.85 M111.05 377.70 h4.95 M923.95 377.70 h-5.55 M111.05 1099.07 h4.95 M923.95 1099.07 h-5.55 M111.05 1088.50 h8.25 M923.95 1088.50 h-8.85 M111.05 1077.93 h4.95 M923.95 1077.93 h-5.55 M111.05 1067.36 h4.95 M923.95 1067.36 h-5.55 M111.05 1056.80 h4.95 M923.95 1056.80 h-5.55 M111.05 1046.23 h4.95 M923.95 1046.23 h-5.55 M111.05 1035.66 h8.25 M923.95 1035.66 h-8.85 M111.05 1025.09 h4.95 M923.95 1025.09 h-5.55 M111.05 1014.52 h4.95 M923.95 1014.52 h-5.55 M111.05 1003.96 h4.95 M923.95 1003.96 h-5.55 M111.05 993.39 h4.95 M923.95 993.39 h-5.55 M111.05 982.82 h8.25 M923.95 982.82 h-8.85 M111.05 972.25 h4.95 M923.95 972.25 h-5.55 M111.05 961.68 h4.95 M923.95 961.68 h-5.55 M111.05 951.12 h4.95 M923.95 951.12 h-5.55 M111.05 940.55 h4.95 M923.95 940.55 h-5.55 M111.05 929.98 h8.25 M923.95 929.98 h-8.85 M111.05 919.41 h4.95 M923.95 919.41 h-5.55 M111.05 908.84 h4.95 M923.95 908.84 h-5.55 M111.05 898.28 h4.95 M923.95 898.28 h-5.55 M111.05 887.71 h4.95 M923.95 887.71 h-5.55 M111.05 877.14 h8.25 M923.95 877.14 h-8.85 M111.05 866.57 h4.95 M923.95 866.57 h-5.55 M111.05 856.00 h4.95 M923.95 856.00 h-5.55 M111.05 845.44 h4.95 M923.95 845.44 h-5.55 M111.05 834.87 h4.95 M923.95 834.87 h-5.55 M111.05 824.30 h8.25 M923.95 824.30 h-8.85 M111.05 813.73 h4.95 M923.95 813.73 h-5.55 M111.05 803.16 h4.95 M923.95 803.16 h-5.55 M111.05 792.60 h4.95 M923.95 792.60 h-5.55 M111.05 782.03 h4.95 M923.95 782.03 h-5.55 M111.05 771.46 h8.25 M923.95 771.46 h-8.85 M111.05 760.89 h4.95 M923.95 760.89 h-5.55 M111.05 750.32 h4.95 M923.95 750.32 h-5.55" stroke="#505050" stroke-width="0.9" fill="none"/>
<g font-family="'Liberation Serif', serif" fill="#000">
<text x="105.00" y="36.30" font-size="39.0" text-anchor="end"  >1.0</text>
<text x="105.00" y="125.50" font-size="39.0" text-anchor="end"  >0.8</text>
<text x="105.00" y="214.70" font-size="39.0" text-anchor="end"  >0.6</text>
<text x="105.00" y="303.90" font-size="39.0" text-anchor="end"  >0.4</text>
<text x="105.00" y="402.75" font-size="39.0" text-anchor="end"  >1.0</text>
<text x="105.00" y="465.74" font-size="39.0" text-anchor="end"  >0.8</text>
<text x="105.00" y="528.73" font-size="39.0" text-anchor="end"  >0.6</text>
<text x="105.00" y="591.72" font-size="39.0" text-anchor="end"  >0.4</text>
<text x="105.00" y="654.71" font-size="39.0" text-anchor="end"  >0.2</text>
<text x="105.00" y="717.70" font-size="39.0" text-anchor="end"  >0.0</text>
<text x="105.00" y="780.76" font-size="39.0" text-anchor="end"  >3.0</text>
<text x="105.00" y="833.60" font-size="39.0" text-anchor="end"  >2.5</text>
<text x="105.00" y="886.44" font-size="39.0" text-anchor="end"  >2.0</text>
<text x="105.00" y="939.28" font-size="39.0" text-anchor="end"  >1.5</text>
<text x="105.00" y="992.12" font-size="39.0" text-anchor="end"  >1.0</text>
<text x="105.00" y="1044.96" font-size="39.0" text-anchor="end"  >0.5</text>
<text x="105.00" y="1097.80" font-size="39.0" text-anchor="end"  >0.0</text>
<text x="127.50" y="1139.30" font-size="39.0" text-anchor="middle"  >0</text>
<text x="243.94" y="1139.30" font-size="39.0" text-anchor="middle"  >2</text>
<text x="360.38" y="1139.30" font-size="39.0" text-anchor="middle"  >4</text>
<text x="476.82" y="1139.30" font-size="39.0" text-anchor="middle"  >6</text>
<text x="593.26" y="1139.30" font-size="39.0" text-anchor="middle"  >8</text>
<text x="709.70" y="1139.30" font-size="39.0" text-anchor="middle"  >10</text>
<text x="826.14" y="1139.30" font-size="39.0" text-anchor="middle"  >12</text>
<text x="467.5" y="1191.6" font-size="36" letter-spacing="1.8">r [km]</text>
<g transform="translate(33.9,224) rotate(-90)" font-style="italic"><text transform="translate(1.2,0) scale(1.12,1)" font-size="36">ρ</text><path d="M21.5 5.2 L31.7 -25.1" stroke="#000" stroke-width="1.8" fill="none"/><text transform="translate(31.2,0) scale(1.12,1)" font-size="36">ρ</text><text x="50.4" y="5.9" font-size="26">c</text></g>
<g transform="translate(28.8,601) rotate(-90)" font-style="italic"><text x="1.6" y="0" font-size="35">p</text><text x="18.7" y="6.5" font-size="26">r</text><path d="M30.2 6.1 L41.1 -24.4" stroke="#000" stroke-width="1.8" fill="none"/><text x="42.9" y="0" font-size="35">p</text><text x="59.2" y="6.5" font-size="26">r</text><text x="69.3" y="6.5" font-size="26">,</text><text x="74.7" y="6.5" font-size="26">c</text></g>
<g transform="translate(33.8,972) rotate(-90)"><text transform="translate(-0.7,0) scale(1.117,1)" font-size="37">m</text><path d="M32.6 5.5 L42.7 -24.7" stroke="#000" stroke-width="1.8" fill="none"/><text x="43.2" y="0" font-size="38" font-style="italic">M</text><circle cx="87.6" cy="-0.7" r="7.75" fill="none" stroke="#000" stroke-width="1.4"/><circle cx="87.6" cy="-0.7" r="1.5" fill="#000"/></g>
<path d="M174.7 809.9 H222.2" stroke="#0000ff" stroke-width="3.5"/>
<text x="235.2" y="818.1" font-size="27" font-style="italic">α</text>
<text x="259.6" y="819.6" font-size="27">=</text>
<text x="283.3" y="818.1" font-size="27" letter-spacing="1.25">−2.0<tspan font-style="italic">μ</tspan></text>
<path d="M174.7 862.0 H222.2" stroke="#00ff00" stroke-width="3.5"/>
<text x="235.2" y="870.2" font-size="27" font-style="italic">α</text>
<text x="259.6" y="871.7" font-size="27">=</text>
<text x="283.3" y="870.2" font-size="27" letter-spacing="1.25">−1.0<tspan font-style="italic">μ</tspan></text>
<path d="M174.7 913.6 H222.2" stroke="#000000" stroke-width="3.5"/>
<text x="235.2" y="921.8" font-size="27" font-style="italic">α</text>
<text x="259.6" y="923.3" font-size="27">=</text>
<text x="283.7" y="921.8" font-size="27" letter-spacing="0.00">0</text>
<path d="M174.7 965.4 H222.2" stroke="#ff00ff" stroke-width="3.5"/>
<text x="235.2" y="973.6" font-size="27" font-style="italic">α</text>
<text x="259.6" y="975.1" font-size="27">=</text>
<text x="283.6" y="973.6" font-size="27" letter-spacing="1.00">1.0<tspan font-style="italic">μ</tspan></text>
<path d="M174.7 1017.1 H222.2" stroke="#ff8000" stroke-width="3.5"/>
<text x="235.2" y="1025.3" font-size="27" font-style="italic">α</text>
<text x="259.6" y="1026.8" font-size="27">=</text>
<text x="283.6" y="1025.3" font-size="27" letter-spacing="1.00">2.0<tspan font-style="italic">μ</tspan></text>
<text x="170.2" y="308.3" font-size="31" font-style="italic">ρ</text>
<text x="186.5" y="313.2" font-size="21">c</text>
<text x="209.8" y="311.3" font-size="31">=</text>
<text x="243.2" y="308.3" font-size="31" letter-spacing="2.5">1.5</text>
<text x="285.4" y="312.7" font-size="42">×</text>
<text x="308.5" y="308.3" font-size="31" letter-spacing="1.6">10</text>
<text x="343.4" y="295.6" font-size="22" letter-spacing="1.9">18</text>
<text x="373.7" y="308.3" font-size="31" letter-spacing="2.2">kg/m</text>
<text x="444" y="297.6" font-size="22">3</text>
</g>
<rect x="683.65" y="64.45" width="156.3" height="67.9" rx="19" ry="19" fill="#deefff" stroke="#000" stroke-width="2.9"/>
<g font-family="'Liberation Serif', serif" font-size="32" fill="#000"><text x="694.7" y="110.9" letter-spacing="2.7">For</text><text x="755.5" y="110.9" font-style="italic">β</text><text x="781.9" y="113.5">=</text><text x="812.6" y="110.9">0</text></g>
</svg>
</body></html>
